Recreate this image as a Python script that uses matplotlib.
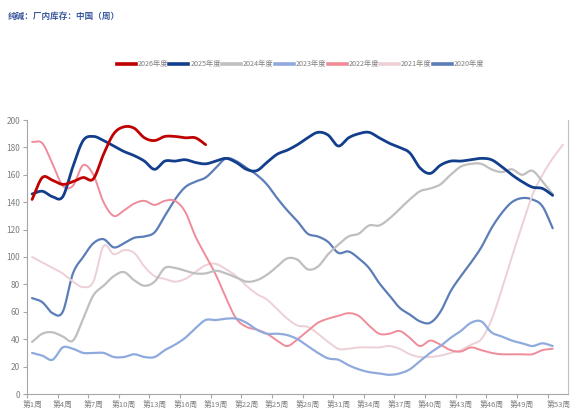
import numpy as np
import matplotlib
matplotlib.use("Agg")
import matplotlib.pyplot as plt
from matplotlib.lines import Line2D

plt.rcParams['font.family'] = ['Noto Sans CJK SC', 'DejaVu Sans']
NARROW = ['Liberation Sans Narrow', 'Noto Sans CJK SC', 'DejaVu Sans']

title = "纯碱：厂内库存：中国（周）"
series_names = ["2026年度", "2025年度", "2024年度", "2023年度", "2022年度", "2021年度", "2020年度"]
colors = ["#C00000", "#123E8C", "#BFBFBF", "#8FAADC", "#F08C9A", "#EDD0D5", "#5B7DB8"]
widths = [2.0, 2.0, 1.6, 1.6, 1.4, 1.4, 1.6]

y2026 = [142, 158, 156, 153, 155, 158, 157, 175, 190, 195, 194, 187, 185, 188, 188, 187, 187, 182]
y2025 = [146, 148, 144, 144, 166, 185, 188, 185, 181, 177, 174, 170, 164, 170, 170, 171, 169, 168,
         170, 172, 169, 164, 163, 169, 175, 178, 182, 187, 191, 189, 181, 187, 190, 191, 187, 183,
         180, 176, 165, 161, 167, 170, 170, 171, 172, 171, 166, 160, 155, 151, 150, 145]
y2024 = [38, 44, 45, 42, 39, 55, 72, 79, 86, 89, 83, 79, 82, 92, 92, 90, 88, 88, 90, 88, 85, 82,
         83, 87, 93, 99, 98, 91, 93, 102, 109, 115, 117, 123, 123, 128, 135, 142, 148, 150, 153,
         160, 166, 168, 168, 164, 162, 164, 160, 163, 155, 146]
y2023 = [30, 28, 25, 34, 33, 30, 30, 30, 27, 27, 29, 27, 27, 32, 36, 41, 48, 54, 54, 55, 55, 52,
         47, 44, 44, 43, 40, 35, 30, 26, 25, 21, 18, 16, 15, 14, 15, 18, 24, 30, 35, 41, 46, 52,
         53, 45, 42, 39, 37, 35, 37, 35]
y2022 = [184, 183, 168, 152, 152, 167, 160, 140, 130, 134, 139, 141, 138, 141, 141, 133, 115,
         101, 87, 70, 55, 49, 47, 44, 39, 35, 40, 46, 52, 55, 57, 59, 57, 50, 44, 44, 46, 41, 35,
         39, 36, 32, 31, 34, 32, 30, 29, 29, 29, 29, 32, 33]
y2021 = [100, 96, 92, 88, 82, 78, 82, 108, 102, 105, 103, 93, 86, 84, 82, 84, 89, 94, 95, 91, 86,
         79, 73, 69, 62, 55, 50, 49, 44, 38, 33, 33, 34, 34, 34, 35, 33, 29, 27, 27, 28, 30, 32,
         36, 40, 54, 76, 100, 123, 145, 160, 172, 182]
y2020 = [70, 67, 59, 60, 88, 100, 110, 113, 107, 110, 114, 115, 118, 130, 142, 151, 155, 158, 165,
         172, 170, 165, 160, 153, 143, 134, 126, 117, 115, 111, 103, 104, 99, 92, 81, 72, 63, 58,
         53, 52, 60, 75, 86, 96, 107, 121, 132, 140, 143, 142, 137, 121]

all_series = [y2026, y2025, y2024, y2023, y2022, y2021, y2020]
label_weeks = [1, 4, 7, 10, 13, 16, 19, 22, 25, 28, 31, 34, 37, 40, 43, 46, 49, 53]
y_ticks = list(range(0, 201, 20))


def smooth(xs, ys, n=12):
    xs = np.asarray(xs, float)
    ys = np.asarray(ys, float)
    if len(xs) < 3:
        return xs, ys
    px = np.concatenate([[2 * xs[0] - xs[1]], xs, [2 * xs[-1] - xs[-2]]])
    py = np.concatenate([[2 * ys[0] - ys[1]], ys, [2 * ys[-1] - ys[-2]]])
    ox, oy = [], []
    t = np.linspace(0, 1, n, endpoint=False)
    for i in range(1, len(px) - 2):
        for arr, out in ((px, ox), (py, oy)):
            p0, p1, p2, p3 = arr[i - 1], arr[i], arr[i + 1], arr[i + 2]
            out.extend(0.5 * ((2 * p1) + (-p0 + p2) * t + (2 * p0 - 5 * p1 + 4 * p2 - p3) * t ** 2
                              + (-p0 + 3 * p1 - 3 * p2 + p3) * t ** 3))
    ox.append(xs[-1])
    oy.append(ys[-1])
    return np.array(ox), np.array(oy)


W, H = 570, 416
fig = plt.figure(figsize=(W / 100, H / 100), dpi=100)
ax = fig.add_axes([27 / W, 1 - 394 / H, (568 - 27) / W, (394 - 120) / H])

order = [6, 5, 4, 3, 2, 1, 0]
for i in order:
    ys = all_series[i]
    xs = np.arange(1, len(ys) + 1)
    sx, sy = smooth(xs, ys)
    ax.plot(sx, sy, color=colors[i], lw=widths[i], solid_capstyle='round', zorder=2 + (6 - i))

ax.set_xlim(0.5, 53.5)
ax.set_ylim(0, 200)
ax.set_yticks(y_ticks)
ax.set_yticklabels([str(v) for v in y_ticks], fontsize=6, color="#7F7F7F", family=NARROW)
ax.set_xticks(np.arange(0.5, 52, 3))
ax.set_xticklabels([])
label_pos = [w if w != 53 else 52.6 for w in label_weeks]
ax.set_xticks(label_pos, minor=True)
ax.set_xticklabels([f"第{w}周" for w in label_weeks], minor=True, fontsize=5.6,
                   color="#7F7F7F", family=NARROW)
ax.tick_params(axis='x', which='major', length=3, color="#A6A6A6", direction='out')
ax.tick_params(axis='x', which='minor', length=0, pad=6)
ax.tick_params(axis='y', length=3, color="#A6A6A6", pad=2)

for s in ['left', 'bottom', 'right']:
    ax.spines[s].set_color("#A6A6A6")
    ax.spines[s].set_linewidth(0.8)
ax.spines['right'].set_color("#BFBFBF")
ax.spines['top'].set_visible(False)

fig.text(8 / W, 1 - 16 / H, title, fontsize=6.2, fontweight='bold', color="#3D5A9E",
         ha='left', va='center')

# legend
ly = 1 - 64 / H
for i, name in enumerate(series_names):
    x0 = 116.7 + 52.7 * i
    fig.add_artist(Line2D([x0 / W, (x0 + 19) / W], [ly, ly], color=colors[i], lw=2.6,
                          transform=fig.transFigure))
    fig.text((x0 + 21) / W, ly, name, fontsize=5.2, color="#7F7F7F", ha='left', va='center',
             family=NARROW)

fig.savefig("out.png", dpi=100)
